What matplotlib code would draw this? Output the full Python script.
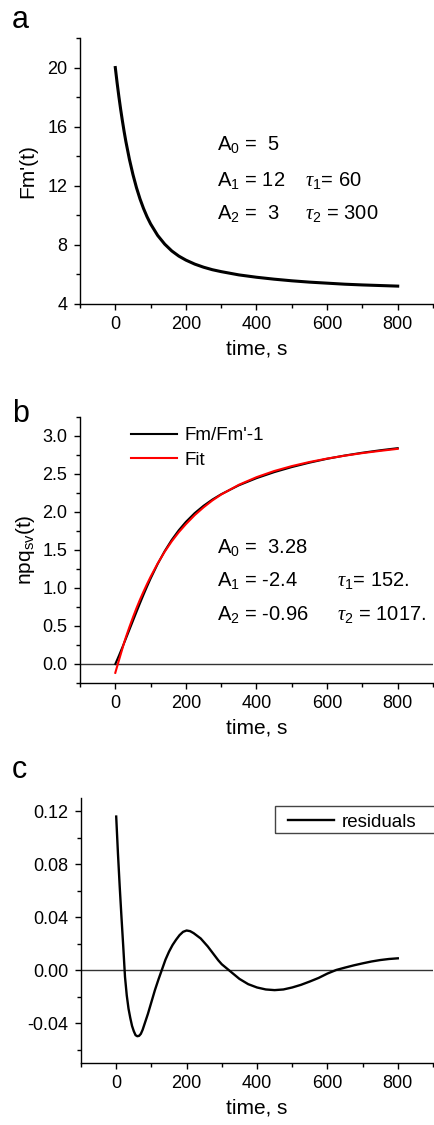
import matplotlib
matplotlib.use("Agg")
import matplotlib.pyplot as plt
from matplotlib.ticker import MultipleLocator, FormatStrFormatter
from matplotlib.patches import Rectangle

plt.rcParams['font.family'] = ['Liberation Sans', 'DejaVu Sans']
plt.rcParams['mathtext.fontset'] = 'custom'
plt.rcParams['mathtext.rm'] = 'Liberation Sans'
plt.rcParams['mathtext.it'] = 'Liberation Serif:italic'
plt.rcParams['mathtext.bf'] = 'Liberation Sans:bold'
plt.rcParams['axes.unicode_minus'] = False

# values
time = [0, 5, 10, 15, 20, 25, 30, 40, 50, 60, 70, 80, 90, 100, 120, 140, 160, 180, 200,
        225, 250, 275, 300, 350, 400, 450, 500, 550, 600, 650, 700, 750, 800]
fm_prime = [20.0, 18.99, 18.06, 17.20, 16.41, 15.67, 14.99, 13.79, 12.76, 11.87, 11.11,
            10.46, 9.90, 9.42, 8.64, 8.05, 7.59, 7.24, 6.97, 6.70, 6.49, 6.32, 6.19,
            5.97, 5.81, 5.68, 5.57, 5.48, 5.41, 5.34, 5.29, 5.25, 5.21]
npq = [0.0, 0.053, 0.107, 0.163, 0.219, 0.276, 0.334, 0.451, 0.568, 0.685, 0.800,
       0.912, 1.020, 1.124, 1.316, 1.486, 1.634, 1.761, 1.870, 1.986, 2.082, 2.164,
       2.234, 2.351, 2.445, 2.524, 2.591, 2.649, 2.700, 2.743, 2.780, 2.812, 2.840]
fit = [-0.116, -0.035, 0.044, 0.123, 0.201, 0.281, 0.353, 0.487, 0.614, 0.735,
       0.848, 0.953, 1.053, 1.148, 1.323, 1.478, 1.615, 1.735, 1.840, 1.959, 2.061,
       2.152, 2.230, 2.358, 2.458, 2.539, 2.604, 2.658, 2.703, 2.741, 2.775, 2.804, 2.831]

time_c = [0, 5, 10, 15, 20, 25, 30, 35, 40, 45, 50, 55, 60, 65, 70, 75, 80, 85, 90, 95,
          100, 110, 120, 130, 140, 150, 160, 170, 180, 190, 200, 210, 220, 230, 240,
          250, 260, 270, 280, 290, 300, 325, 350, 375, 400, 425, 450, 475, 500, 525,
          550, 575, 600, 625, 650, 675, 700, 725, 750, 775, 800]
resid = [0.116, 0.088, 0.063, 0.040, 0.018, -0.005, -0.019, -0.029, -0.036, -0.042,
         -0.046, -0.049, -0.0498, -0.0495, -0.048, -0.045, -0.041, -0.037, -0.033,
         -0.0285, -0.024, -0.015, -0.007, 0.0005, 0.008, 0.014, 0.019, 0.023, 0.0265,
         0.029, 0.030, 0.0295, 0.028, 0.026, 0.024, 0.021, 0.018, 0.0145, 0.011, 0.0075,
         0.0045, -0.001, -0.0065, -0.0105, -0.013, -0.0145, -0.015, -0.0145, -0.013,
         -0.011, -0.0085, -0.0058, -0.0025, 0.0002, 0.002, 0.0037, 0.0052, 0.0066,
         0.0077, 0.0085, 0.009]

fit_a = [("A$_0$ =  5", ""), ("A$_1$ = 12", r"$\tau$$_1$= 60"), ("A$_2$ =  3", r"$\tau$$_2$ = 300")]
fit_b = [("A$_0$ =  3.28", ""), ("A$_1$ = -2.4", r"$\tau$$_1$= 152."),
         ("A$_2$ = -0.96", r"$\tau$$_2$ = 1017.")]

TICK = 13
LAB = 15
LEG = 13.5
ANN = 14.5

fig = plt.figure(figsize=(4.35, 11.25), dpi=100)
W, H = 435, 1125


def make_ax(left, top, right, bottom):
    ax = fig.add_axes([left / W, 1 - bottom / H, (right - left) / W, (bottom - top) / H])
    for s in ['top', 'right']:
        ax.spines[s].set_visible(False)
    for s in ['left', 'bottom']:
        ax.spines[s].set_linewidth(1.0)
    ax.set_xlim(-100, 900)
    ax.xaxis.set_major_locator(MultipleLocator(200))
    ax.xaxis.set_minor_locator(MultipleLocator(100))
    ax.tick_params(which='major', direction='out', length=4, width=1, labelsize=TICK, pad=5)
    ax.tick_params(which='minor', direction='out', length=3, width=1)
    ax.set_xlabel('time, s', fontsize=LAB, labelpad=4)
    return ax


def params(ax, rows, x0, x1, ys):
    for (a, t), y in zip(rows, ys):
        ax.text(x0, y, a, transform=ax.transAxes, fontsize=ANN, va='center')
        if t:
            ax.text(x1, y, t, transform=ax.transAxes, fontsize=ANN, va='center')


# panel a
ax1 = make_ax(80, 38, 433, 304)
ax1.plot(time, fm_prime, color='black', lw=2.2, solid_joinstyle='round')
ax1.set_ylim(4, 22)
ax1.yaxis.set_major_locator(MultipleLocator(4))
ax1.yaxis.set_minor_locator(MultipleLocator(2))
ax1.set_ylabel("Fm'(t)", fontsize=LAB, labelpad=7)
params(ax1, fit_a, 0.388, 0.637, [0.598, 0.466, 0.342])

# panel b
ax2 = make_ax(80, 417, 433, 683)
ax2.axhline(0, color='#333333', lw=1.0)
ax2.plot(time, npq, color='black', lw=1.5, label="Fm/Fm'-1", solid_joinstyle='round')
ax2.plot(time, fit, color='red', lw=1.5, label='Fit', solid_joinstyle='round')
ax2.set_ylim(-0.25, 3.25)
ax2.yaxis.set_major_locator(MultipleLocator(0.5))
ax2.yaxis.set_minor_locator(MultipleLocator(0.25))
ax2.yaxis.set_major_formatter(FormatStrFormatter('%.1f'))
ax2.set_ylabel('npq$_{\\rm sv}$(t)', fontsize=LAB, labelpad=4)
ax2.legend(loc='upper left', bbox_to_anchor=(0.123, 0.99), frameon=False,
           fontsize=LEG, handlelength=2.45, handletextpad=0.4, labelspacing=0.4,
           borderaxespad=0)
params(ax2, fit_b, 0.388, 0.728, [0.511, 0.387, 0.256])

# panel c
ax3 = make_ax(81, 798, 433, 1063)
ax3.axhline(0, color='#333333', lw=1.0)
ax3.plot(time_c, resid, color='black', lw=1.7, label='residuals', solid_joinstyle='round')
ax3.set_ylim(-0.07, 0.13)
ax3.yaxis.set_major_locator(MultipleLocator(0.04))
ax3.yaxis.set_minor_locator(MultipleLocator(0.02))
ax3.yaxis.set_major_formatter(FormatStrFormatter('%.2f'))
ax3.legend(loc='center left', bbox_to_anchor=(0.588, 0.909), borderaxespad=0,
           borderpad=0, frameon=False, fontsize=LEG, handlelength=2.45,
           handletextpad=0.4)
# legend box runs past the right edge of the figure, as in the original
ax3.add_patch(Rectangle((0.551, 0.868), 0.49, 0.102, transform=ax3.transAxes,
                        fill=False, edgecolor='#444444', lw=1.0, clip_on=False))

# panel letters
fig.text(12 / W, 1 - 28 / H, 'a', fontsize=22)
fig.text(12 / W, 1 - 422 / H, 'b', fontsize=22)
fig.text(12 / W, 1 - 778 / H, 'c', fontsize=22)

fig.savefig('out.png', dpi=100)
